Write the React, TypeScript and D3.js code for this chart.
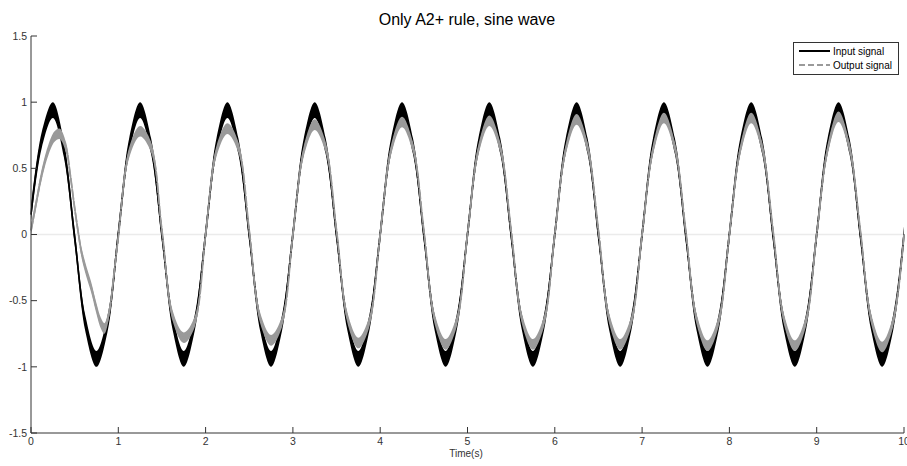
import React from "react";
import * as d3 from "d3";

// ---- data ----
const sampleTimes = [
  0, 0.125, 0.25, 0.375, 0.5, 0.625, 0.75, 0.875,
  1, 1.125, 1.25, 1.375, 1.5, 1.625, 1.75, 1.875,
  2, 2.125, 2.25, 2.375, 2.5, 2.625, 2.75, 2.875,
  3, 3.125, 3.25, 3.375, 3.5, 3.625, 3.75, 3.875,
  4, 4.125, 4.25, 4.375, 4.5, 4.625, 4.75, 4.875,
  5, 5.125, 5.25, 5.375, 5.5, 5.625, 5.75, 5.875,
  6, 6.125, 6.25, 6.375, 6.5, 6.625, 6.75, 6.875,
  7, 7.125, 7.25, 7.375, 7.5, 7.625, 7.75, 7.875,
  8, 8.125, 8.25, 8.375, 8.5, 8.625, 8.75, 8.875,
  9, 9.125, 9.25, 9.375, 9.5, 9.625, 9.75, 9.875,
  10,
];

const inputSignal = [
  0.15, 0.72, 0.94, 0.65, -0.02, -0.68, -0.94, -0.68,
  0.0, 0.67, 0.94, 0.67, 0.0, -0.67, -0.94, -0.67,
  0.0, 0.67, 0.94, 0.67, 0.0, -0.67, -0.94, -0.67,
  0.0, 0.67, 0.94, 0.67, 0.0, -0.67, -0.94, -0.67,
  0.0, 0.67, 0.94, 0.67, 0.0, -0.67, -0.94, -0.67,
  0.0, 0.67, 0.94, 0.67, 0.0, -0.67, -0.94, -0.67,
  0.0, 0.67, 0.94, 0.67, 0.0, -0.67, -0.94, -0.67,
  0.0, 0.67, 0.94, 0.67, 0.0, -0.67, -0.94, -0.67,
  0.0, 0.67, 0.94, 0.67, 0.0, -0.67, -0.94, -0.67,
  0.0, 0.67, 0.94, 0.67, 0.0, -0.67, -0.94, -0.67,
  0.0,
];

const outputTimes = [
  0, 0.06, 0.125, 0.2, 0.27, 0.33, 0.4, 0.45, 0.5, 0.54, 0.58, 0.63, 0.69, 0.75, 0.8, 0.84, 0.9, 0.95,
  1, 1.125, 1.25, 1.375, 1.5, 1.625, 1.75, 1.875,
  2, 2.125, 2.25, 2.375, 2.5, 2.625, 2.75, 2.875,
  3, 3.125, 3.25, 3.375, 3.5, 3.625, 3.75, 3.875,
  4, 4.125, 4.25, 4.375, 4.5, 4.625, 4.75, 4.875,
  5, 5.125, 5.25, 5.375, 5.5, 5.625, 5.75, 5.875,
  6, 6.125, 6.25, 6.375, 6.5, 6.625, 6.75, 6.875,
  7, 7.125, 7.25, 7.375, 7.5, 7.625, 7.75, 7.875,
  8, 8.125, 8.25, 8.375, 8.5, 8.625, 8.75, 8.875,
  9, 9.125, 9.25, 9.375, 9.5, 9.625, 9.75, 9.875,
  10,
];

const outputSignal = [
  0.03, 0.24, 0.46, 0.64, 0.74, 0.76, 0.66, 0.45, 0.2, 0.02, -0.14, -0.27, -0.4, -0.56, -0.67, -0.71, -0.57, -0.3,
  -0.02, 0.62, 0.78, 0.66, 0.03, -0.62, -0.78, -0.66,
  0.0, 0.63, 0.8, 0.66, 0.03, -0.63, -0.8, -0.66,
  0.0, 0.63, 0.83, 0.66, 0.03, -0.63, -0.82, -0.66,
  0.0, 0.64, 0.85, 0.66, 0.03, -0.64, -0.83, -0.66,
  0.0, 0.64, 0.86, 0.66, 0.03, -0.64, -0.83, -0.66,
  0.0, 0.64, 0.87, 0.66, 0.03, -0.64, -0.83, -0.66,
  0.0, 0.64, 0.88, 0.66, 0.03, -0.64, -0.84, -0.66,
  0.0, 0.64, 0.88, 0.66, 0.03, -0.64, -0.84, -0.66,
  0.0, 0.64, 0.89, 0.66, 0.03, -0.64, -0.85, -0.66,
  0.0,
];

// measured noise half-widths of the two signals
const inputNoise = 0.06;
const outputNoise = 0.04;

const xTicks = [0, 1, 2, 3, 4, 5, 6, 7, 8, 9, 10];
const yTicks = [-1.5, -1, -0.5, 0, 0.5, 1, 1.5];
const legendLabels = ["Input signal", "Output signal"];

const W = 907;
const H = 466;
const FONT = "Liberation Sans, Arial, sans-serif";

export default function App() {
  const x = d3.scaleLinear().domain([0, 10]).range([31, 904]);
  const y = d3.scaleLinear().domain([-1.5, 1.5]).range([433, 36]);

  const inData = sampleTimes.map((t, i) => ({ t, v: inputSignal[i] }));
  const outData = outputTimes.map((t, i) => ({ t, v: outputSignal[i] }));

  const curve = d3.curveCatmullRom.alpha(0.5);
  const line = d3
    .line<{ t: number; v: number }>()
    .x((d) => x(d.t))
    .y((d) => y(d.v))
    .curve(curve);
  const band = (n: number) =>
    d3
      .area<{ t: number; v: number }>()
      .x((d) => x(d.t))
      .y0((d) => y(d.v - n))
      .y1((d) => y(d.v + n))
      .curve(curve);

  const axisColor = "#333";
  const black = "#000";
  const gray = "#9a9a9a";

  return (
    <svg
      width={W}
      height={H}
      style={{ position: "absolute", left: 0, top: 0, background: "#fff" }}
      fontFamily={FONT}
    >
      <rect x={0} y={0} width={W} height={H} fill="#fff" />
      {/* title */}
      <text x={467} y={25} textAnchor="middle" fontSize={16} fill="#000">
        Only A2+ rule, sine wave
      </text>

      {/* zero line */}
      <line x1={x(0)} x2={x(10)} y1={y(0)} y2={y(0)} stroke="#ebebeb" strokeWidth={1.5} />

      {/* input signal */}
      <path d={band(inputNoise)(inData) || ""} fill={black} stroke="none" />
      <path d={line(inData) || ""} fill="none" stroke={black} strokeWidth={1.6} />

      {/* output signal */}
      <path d={band(outputNoise)(outData) || ""} fill={gray} stroke="none" />
      <path
        d={line(outData) || ""}
        fill="none"
        stroke={gray}
        strokeWidth={1.8}
        strokeDasharray="10,1.5"
      />

      {/* axes */}
      <line x1={x(0)} x2={x(0)} y1={y(1.5)} y2={y(-1.5)} stroke={axisColor} strokeWidth={1} />
      <line x1={x(0)} x2={x(10)} y1={y(-1.5)} y2={y(-1.5)} stroke={axisColor} strokeWidth={1} />
      {yTicks.map((v) => (
        <g key={"y" + v}>
          <line x1={x(0)} x2={x(0) + 6} y1={y(v)} y2={y(v)} stroke={axisColor} />
          <text
            x={x(0) - 4}
            y={y(v)}
            dy="0.35em"
            textAnchor="end"
            fontSize={10.5}
            fill="#333"
          >
            {v}
          </text>
        </g>
      ))}
      {xTicks.map((v) => (
        <g key={"x" + v}>
          <line x1={x(v)} x2={x(v)} y1={y(-1.5)} y2={y(-1.5) - 6} stroke={axisColor} />
          <text x={x(v)} y={y(-1.5) + 12} textAnchor="middle" fontSize={10.5} fill="#333">
            {v}
          </text>
        </g>
      ))}
      <text x={466} y={457} textAnchor="middle" fontSize={10} fill="#333">
        Time(s)
      </text>

      {/* legend */}
      <rect x={793.5} y={42.5} width={105} height={32} fill="#fff" stroke="#333" strokeWidth={1} />
      <line x1={799} x2={830} y1={51} y2={51} stroke={black} strokeWidth={2} />
      <text x={833} y={54.5} fontSize={10} fill="#000">
        {legendLabels[0]}
      </text>
      <line
        x1={799}
        x2={830}
        y1={65}
        y2={65}
        stroke={gray}
        strokeWidth={2}
        strokeDasharray="6,3"
      />
      <text x={833} y={68.5} fontSize={10} fill="#000">
        {legendLabels[1]}
      </text>
    </svg>
  );
}
